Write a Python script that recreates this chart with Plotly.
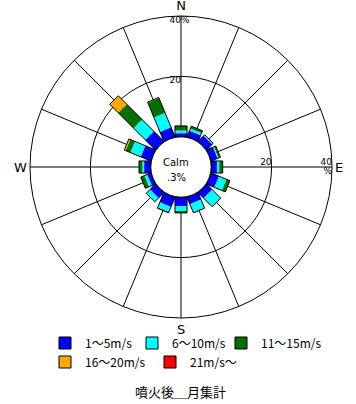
import math
import plotly.graph_objects as go

# ---------------- data ----------------
directions = ["N", "NNE", "NE", "ENE", "E", "ESE", "SE", "SSE",
              "S", "SSW", "SW", "WSW", "W", "WNW", "NW", "NNW"]
dir_angles = [0, 22.5, 45, 67.5, 90, 112.5, 135, 157.5,
              180, 202.5, 225, 247.5, 270, 292.5, 315, 337.5]
speed_1_5 = [1.2, 2.2, 2.6, 2.3, 1.9, 2.8, 2.6, 2.5, 3.0, 3.5, 2.5, 1.3, 2.2, 3.6, 4.7, 3.4]
speed_6_10 = [0.9, 0.8, 0.4, 0.4, 0.8, 2.7, 3.9, 3.0, 1.6, 1.8, 1.8, 1.0, 0.6, 3.7, 5.5, 5.2]
speed_11_15 = [1.5, 0.8, 0.1, 0.6, 1.1, 1.2, 0.1, 0.1, 0.6, 0.3, 0.0, 1.3, 1.1, 1.7, 7.2, 5.3]
speed_16_20 = [0, 0, 0, 0, 0, 0, 0, 0, 0, 0, 0, 0, 0, 0.5, 4.0, 0.2]
speed_21 = [0, 0, 0, 0, 0, 0, 0, 0, 0, 0, 0, 0, 0, 0, 0, 0]
calm_pct = ".3%"
class_names = ["1～5m/s", "6～10m/s", "11～15m/s", "16～20m/s", "21m/s～"]
class_colors = ["#0000FF", "#00FFFF", "#007000", "#FFA800", "#FF0000"]
compass_labels = ["N", "E", "S", "W"]
radial_ticks = [20, 40]
title_text = "噴火後＿月集計"

series = [speed_1_5, speed_6_10, speed_11_15, speed_16_20, speed_21]

# ---------------- geometry helpers ----------------
HOLE = 0.2
RMAX = 40
OFF = RMAX * HOLE / (1 - HOLE)   # radial offset so that (r + OFF) is linear on screen
HALF_W = 2.0                     # half bar width in radial units


def rect(phi, b, t):
    rs, ts = [], []
    for a, s in [(b + OFF, -1), (t + OFF, -1), (t + OFF, 1), (b + OFF, 1), (b + OFF, -1)]:
        rs.append(math.hypot(a, HALF_W) - OFF)
        ts.append(phi + s * math.degrees(math.atan2(HALF_W, a)))
    return rs, ts


fig = go.Figure()

cum = [0.0] * len(directions)
for vals, name, col in zip(series, class_names, class_colors):
    R, T = [], []
    for i, v in enumerate(vals):
        if v > 0:
            rs, ts = rect(dir_angles[i], cum[i], cum[i] + v)
            R += rs + [None]
            T += ts + [None]
        cum[i] += v
    if R:
        fig.add_trace(go.Scatterpolar(r=R, theta=T, mode="lines", fill="toself",
                                      fillcolor=col, line=dict(width=0, color=col),
                                      showlegend=False, hoverinfo="skip"))

# outline of each stacked bar
R, T = [], []
for i, tot in enumerate(cum):
    rs, ts = rect(dir_angles[i], 0, tot)
    R += rs + [None]
    T += ts + [None]
fig.add_trace(go.Scatterpolar(r=R, theta=T, mode="lines",
                              line=dict(width=1, color="black"),
                              showlegend=False, hoverinfo="skip"))

# legend entries (one single-item legend each, laid out in two rows)
W, H = 356, 404
leg_ids = ["legend", "legend2", "legend3", "legend4", "legend5"]
leg_left = [45, 132, 221, 45, 150]
leg_row = [343, 343, 343, 362, 362]
for name, col, lg in zip(class_names, class_colors, leg_ids):
    fig.add_trace(go.Barpolar(r=[0], theta=[0], name=name, legend=lg,
                              marker=dict(color=col, line=dict(color="black", width=1))))

# radial tick labels
lab_font = dict(family="DejaVu Sans", size=9, color="black")
fig.add_trace(go.Scatterpolar(
    r=[radial_ticks[0], radial_ticks[0], radial_ticks[1], radial_ticks[1], radial_ticks[1], radial_ticks[1]],
    theta=[0, 90, 0, 0, 90, 90],
    text=[str(radial_ticks[0]), str(radial_ticks[0]), str(radial_ticks[1]), "%", str(radial_ticks[1]), "%"],
    textposition=["bottom left", "top left", "bottom left", "bottom right", "top left", "bottom left"],
    mode="text", textfont=lab_font, showlegend=False, hoverinfo="skip"))

leg_font = dict(family="Noto Sans CJK JP", size=12, color="black")
legend_layout = {}
for lg, lx, ly in zip(leg_ids, leg_left, leg_row):
    legend_layout[lg] = dict(orientation="h", x=lx / W, y=1 - ly / H,
                             xanchor="left", yanchor="middle",
                             font=leg_font, itemwidth=30,
                             bgcolor="rgba(0,0,0,0)", tracegroupgap=0)

fig.update_layout(
    width=W, height=H,
    margin=dict(l=0, r=0, t=0, b=0, autoexpand=False),
    paper_bgcolor="white",
    polar=dict(
        domain=dict(x=[30 / W, 332 / W], y=[1 - 318 / H, 1 - 16 / H]),
        hole=HOLE,
        bgcolor="white",
        radialaxis=dict(range=[0, RMAX], tickvals=[radial_ticks[0]], showticklabels=False,
                        showline=False, ticks="", gridcolor="black", gridwidth=1),
        angularaxis=dict(direction="clockwise", rotation=90,
                         tickvals=dir_angles,
                         ticktext=[compass_labels[i // 4] if i % 4 == 0 else "" for i in range(16)],
                         ticks="", showline=True, linecolor="black", linewidth=1,
                         gridcolor="black", gridwidth=1,
                         tickfont=dict(family="DejaVu Sans", size=13, color="black")),
    ),
    annotations=[
        dict(text="Calm", x=176 / W, y=1 - 162 / H, xref="paper", yref="paper",
             xanchor="center", yanchor="middle",
             showarrow=False, font=dict(family="DejaVu Sans", size=10, color="black")),
        dict(text=calm_pct, x=176 / W, y=1 - 178 / H, xref="paper", yref="paper",
             xanchor="center", yanchor="middle",
             showarrow=False, font=dict(family="DejaVu Sans", size=10, color="black")),
        dict(text=title_text, x=180 / W, y=1 - 391 / H, xref="paper", yref="paper",
             xanchor="center", yanchor="middle",
             showarrow=False, font=dict(family="Noto Sans CJK JP", size=13, color="black")),
    ],
    **legend_layout,
)

fig.write_html("out.html", config={"displayModeBar": False},
               post_script="document.body.style.margin='0';document.body.style.overflow='hidden';")
